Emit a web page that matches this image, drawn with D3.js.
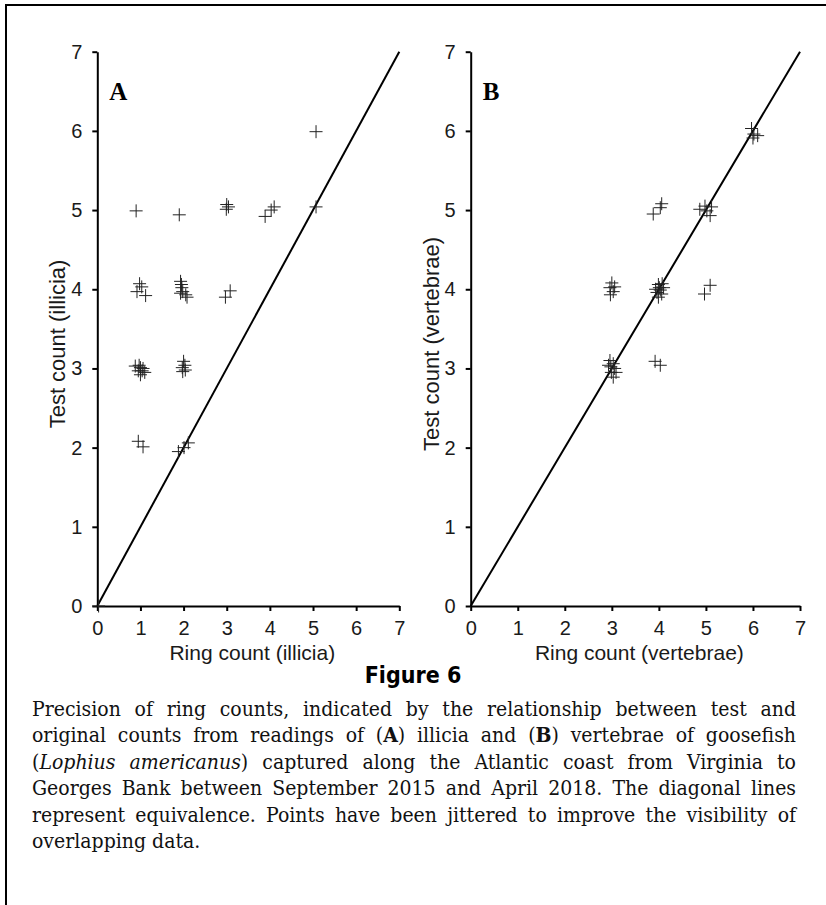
<!DOCTYPE html>
<html>
<head>
<meta charset="utf-8">
<script src="https://cdn.jsdelivr.net/npm/d3@7"></script>
<style>
  body { margin: 0; background: #fff; }
  svg { display: block; }
</style>
</head>
<body>
<svg id="fig" width="826" height="905"></svg>
<script>
// Axis ticks (same on both panels)
const tickValues = [0, 1, 2, 3, 4, 5, 6, 7];

// Panel A: illicia (jittered ring counts)
const illiciaRing = [0.03, 0.90, 1.90, 3.00, 3.04, 2.99, 3.89, 4.03, 4.10, 5.07, 5.07,
  0.98, 1.03, 0.92, 1.12, 1.93, 1.95, 1.96, 1.98, 2.05, 1.93, 2.08, 2.97, 3.08,
  0.88, 0.97, 1.00, 1.04, 0.95, 1.10, 1.00, 1.06, 2.00, 2.03, 1.97, 2.04, 1.98,
  0.95, 1.06, 1.88, 2.01, 2.11];
const illiciaTest = [0.00, 4.99, 4.94, 5.07, 5.04, 5.01, 4.92, 5.00, 5.04, 5.99, 5.04,
  4.07, 4.03, 3.97, 3.92, 4.10, 4.06, 4.02, 3.97, 3.93, 3.95, 3.90, 3.90, 3.98,
  3.03, 3.04, 3.01, 2.97, 2.97, 2.95, 2.92, 3.00, 3.09, 3.04, 3.01, 2.98, 2.96,
  2.08, 2.01, 1.95, 2.00, 2.06];

// Panel B: vertebrae
const vertebraeRing = [5.97, 6.02, 6.00, 6.10, 3.88, 4.03, 4.06, 4.87, 4.98, 5.02, 5.09, 5.12,
  4.97, 5.09, 3.00, 2.96, 3.03, 2.97, 3.06, 3.99, 4.03, 3.96, 4.06, 4.10, 3.99, 3.93, 4.07, 4.01,
  2.96, 3.03, 2.93, 3.06, 2.99, 3.09, 3.03, 2.98, 3.92, 4.03];
const vertebraeTest = [6.03, 5.96, 5.91, 5.94, 4.95, 5.03, 5.08, 5.01, 5.05, 4.99, 4.93, 5.04,
  3.94, 4.05, 4.08, 4.02, 3.97, 3.93, 4.03, 4.06, 3.99, 3.96, 3.94, 4.02, 3.90, 4.00, 4.07, 4.02,
  3.10, 3.06, 3.04, 3.00, 2.95, 2.95, 2.89, 3.02, 3.09, 3.04];

const captionTitle = "Figure 6";
const captionLines = [
  "Precision of ring counts, indicated by the relationship between test and",
  "original counts from readings of (**A**) illicia and (**B**) vertebrae of goosefish",
  "(_Lophius_ _americanus_) captured along the Atlantic coast from Virginia to",
  "Georges Bank between September 2015 and April 2018. The diagonal lines",
  "represent equivalence. Points have been jittered to improve the visibility of",
  "overlapping data."
];

const svg = d3.select("#fig");
const sans = "'Liberation Sans', Arial, Helvetica, sans-serif";
const serif = "'Liberation Serif', 'Times New Roman', serif";

svg.append("rect").attr("width", 826).attr("height", 905).attr("fill", "#fff");

// frame (top and left edges only)
svg.append("path")
  .attr("d", "M6,905V5H826")
  .attr("fill", "none")
  .attr("stroke", "#000")
  .attr("stroke-width", 2);

const yScale = d3.scaleLinear().domain([0, 7]).range([606, 51.7]);

function createPanel(label, xRange, xs, ys, xLabel, yLabel) {
  const xScale = d3.scaleLinear().domain([0, 7]).range(xRange);
  const g = svg.append("g");

  const xAxis = d3.axisBottom(xScale).tickValues(tickValues).tickFormat(d3.format("d"))
    .tickSize(5).tickSizeOuter(0).tickPadding(10);
  const yAxis = d3.axisLeft(yScale).tickValues(tickValues).tickFormat(d3.format("d"))
    .tickSize(5).tickSizeOuter(0).tickPadding(10);

  g.append("g")
    .attr("transform", `translate(0,${yScale(0)})`)
    .call(xAxis);
  g.append("g")
    .attr("transform", `translate(${xScale(0)},0)`)
    .call(yAxis);

  g.selectAll(".domain, .tick line")
    .attr("stroke", "#000")
    .attr("stroke-width", 2);
  g.selectAll(".tick text")
    .attr("fill", "#1a1a1a")
    .style("font-family", sans)
    .style("font-size", "20px");

  g.append("text")
    .attr("x", (xRange[0] + xRange[1]) / 2 + 4)
    .attr("y", 660)
    .attr("text-anchor", "middle")
    .attr("fill", "#1a1a1a")
    .style("font-family", sans)
    .style("font-size", "21px")
    .text(xLabel);

  g.append("text")
    .attr("transform", `translate(${xScale(0) - 32},344) rotate(-90)`)
    .attr("text-anchor", "middle")
    .attr("fill", "#1a1a1a")
    .style("font-family", sans)
    .style("font-size", "22px")
    .text(yLabel);

  // equivalence line
  g.append("line")
    .attr("x1", xScale(0)).attr("y1", yScale(0))
    .attr("x2", xScale(7)).attr("y2", yScale(7))
    .attr("stroke", "#000")
    .attr("stroke-width", 2);

  g.append("g")
    .selectAll("path")
    .data(xs.map((x, i) => [x, ys[i]]))
    .join("path")
    .attr("transform", d => `translate(${xScale(d[0])},${yScale(d[1])})`)
    .attr("d", "M-6.5,0H6.5M0,-6.5V6.5")
    .attr("stroke", "#222")
    .attr("stroke-width", 1)
    .attr("fill", "none");

  g.append("text")
    .attr("x", xScale(0) + 12)
    .attr("y", 100)
    .attr("fill", "#000")
    .style("font-family", serif)
    .style("font-weight", "bold")
    .style("font-size", "25px")
    .text(label);
}

createPanel("A", [97.3, 399.3], illiciaRing, illiciaTest, "Ring count (illicia)", "Test count (illicia)");
createPanel("B", [470.7, 800], vertebraeRing, vertebraeTest, "Ring count (vertebrae)", "Test count (vertebrae)");

// caption title
svg.append("text")
  .attr("x", 413)
  .attr("y", 683)
  .attr("text-anchor", "middle")
  .style("font-family", "'Liberation Sans Narrow', 'DejaVu Sans Condensed', 'Liberation Sans', sans-serif")
  .style("font-weight", "bold")
  .style("font-stretch", "condensed")
  .style("font-size", "23px")
  .text(captionTitle);

// caption body, justified word by word
function drawCaption(left, right, top, lead, baseSize) {
  const capFont = "'DejaVu Serif', 'Liberation Serif', serif";
  const g = svg.append("g").style("font-family", capFont)
    .style("font-stretch", "semi-condensed").attr("fill", "#111");

  function pieces(word) {
    return word.split(/(\*\*[^*]+\*\*|_[^_]+_)/).filter(Boolean).map(p => {
      if (p.startsWith("**")) return { t: p.slice(2, -2), w: "bold", s: "normal" };
      if (p.startsWith("_")) return { t: p.slice(1, -1), w: "normal", s: "italic" };
      return { t: p, w: "normal", s: "normal" };
    });
  }

  function layout(size) {
    g.selectAll("*").remove();
    g.style("font-size", size + "px");
    const probe = g.append("text").text("a a");
    const probe2 = g.append("text").text("aa");
    const space = probe.node().getComputedTextLength() - probe2.node().getComputedTextLength();
    probe.remove(); probe2.remove();

    let widest = 0;
    const rows = captionLines.map((line, i) => {
      const text = g.append("text").attr("y", top + i * lead);
      const words = line.split(" ").map(w => {
        const spans = pieces(w).map(p => text.append("tspan")
          .style("font-weight", p.w).style("font-style", p.s).text(p.t));
        const width = d3.sum(spans, s => s.node().getComputedTextLength());
        return { spans, width };
      });
      const natural = d3.sum(words, w => w.width) + space * (words.length - 1);
      widest = Math.max(widest, natural);
      return { words, natural };
    });
    return { rows, space, widest };
  }

  let res = layout(baseSize);
  const avail = right - left;
  if (res.widest > avail) res = layout(baseSize * avail / res.widest * 0.99);

  res.rows.forEach((row, i) => {
    const last = i === res.rows.length - 1;
    const used = d3.sum(row.words, w => w.width);
    const gap = last ? res.space : (avail - used) / (row.words.length - 1);
    let x = left;
    row.words.forEach(w => {
      w.spans[0].attr("x", x);
      x += w.width + gap;
    });
  });
}

drawCaption(32, 796, 716, 26.4, 21);
</script>
</body>
</html>
